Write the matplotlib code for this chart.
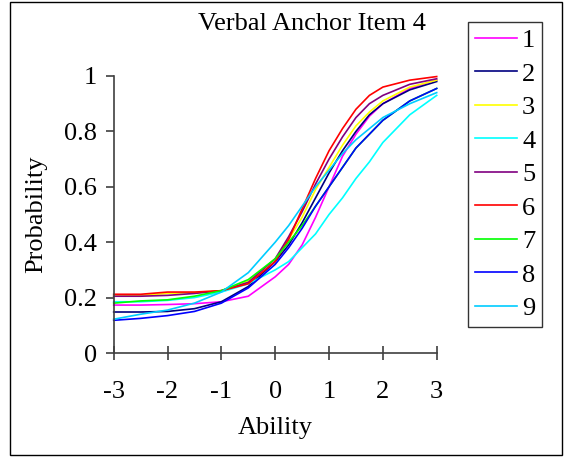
import matplotlib.pyplot as plt
import numpy as np
from matplotlib.patches import Rectangle

plt.rcParams['font.family'] = ['Liberation Serif', 'DejaVu Serif']

ability = [-3, -2.5, -2, -1.5, -1, -0.5, 0, 0.25, 0.5, 0.75, 1, 1.25, 1.5, 1.75, 2, 2.5, 3]

p1 = [0.173, 0.173, 0.175, 0.178, 0.185, 0.205, 0.275, 0.32, 0.39, 0.49, 0.60, 0.71, 0.79, 0.855, 0.90, 0.955, 0.985]
p2 = [0.148, 0.148, 0.150, 0.160, 0.185, 0.240, 0.33, 0.39, 0.47, 0.56, 0.65, 0.73, 0.80, 0.86, 0.90, 0.95, 0.98]
p3 = [0.205, 0.208, 0.215, 0.218, 0.225, 0.260, 0.34, 0.41, 0.49, 0.59, 0.67, 0.75, 0.82, 0.87, 0.91, 0.96, 0.985]
p4 = [0.185, 0.185, 0.190, 0.200, 0.220, 0.250, 0.30, 0.33, 0.38, 0.43, 0.50, 0.56, 0.63, 0.69, 0.76, 0.86, 0.93]
p5 = [0.205, 0.205, 0.208, 0.215, 0.225, 0.255, 0.34, 0.42, 0.51, 0.61, 0.70, 0.78, 0.85, 0.90, 0.93, 0.97, 0.99]
p6 = [0.212, 0.212, 0.220, 0.220, 0.225, 0.250, 0.33, 0.41, 0.52, 0.63, 0.73, 0.81, 0.88, 0.93, 0.96, 0.985, 0.998]
p7 = [0.180, 0.188, 0.192, 0.205, 0.225, 0.265, 0.34, 0.40, 0.46, 0.53, 0.60, 0.67, 0.74, 0.79, 0.84, 0.91, 0.955]
p8 = [0.118, 0.125, 0.135, 0.150, 0.180, 0.235, 0.32, 0.38, 0.45, 0.53, 0.60, 0.67, 0.74, 0.79, 0.84, 0.91, 0.955]
p9 = [0.122, 0.140, 0.155, 0.180, 0.220, 0.290, 0.40, 0.46, 0.53, 0.60, 0.66, 0.72, 0.77, 0.81, 0.85, 0.90, 0.94]

series = [p1, p2, p3, p4, p5, p6, p7, p8, p9]
names = ['1', '2', '3', '4', '5', '6', '7', '8', '9']
colors = ['#ff00ff', '#000080', '#ffff00', '#00ffff', '#800080',
          '#ff0000', '#00ff00', '#0000ff', '#00ccff']

fs = 19

fig = plt.figure(figsize=(5.66, 4.57), dpi=100)
ax = fig.add_axes([113.7 / 566, 1 - 353 / 457, 323 / 566, 277 / 457])

for vals, name, col in zip(series, names, colors):
    ax.plot(ability, vals, color=col, lw=1.2, label=name, clip_on=False)

ax.set_xlim(-3, 3)
ax.set_ylim(0, 1)
ax.set_xticks([-3, -2, -1, 0, 1, 2, 3])
ax.set_xticklabels(['-3', '-2', '-1', '0', '1', '2', '3'])
ax.set_yticks([0, 0.2, 0.4, 0.6, 0.8, 1])
ax.set_yticklabels(['0', '0.2', '0.4', '0.6', '0.8', '1'])
ax.spines['top'].set_visible(False)
ax.spines['right'].set_visible(False)
for s in ['left', 'bottom']:
    ax.spines[s].set_color('#404040')
    ax.spines[s].set_linewidth(1.2)
ax.tick_params(axis='x', direction='inout', length=10, width=1.2, pad=15.5, labelsize=fs, color='#404040')
ax.tick_params(axis='y', direction='out', length=6, width=1.2, pad=6, labelsize=fs, color='#404040')
ax.set_xlabel('Ability', fontsize=fs, labelpad=10)
ax.set_ylabel('Probability', fontsize=fs, labelpad=12)

fig.text(312 / 566, 1 - 24 / 457, 'Verbal Anchor Item 4', fontsize=fs, ha='center', va='center')

leg = ax.legend(loc='upper left', bbox_to_anchor=(468 / 566, 1 - 22 / 457),
                bbox_transform=fig.transFigure, fontsize=fs, frameon=True,
                fancybox=False, handlelength=1.6, handletextpad=0.2,
                labelspacing=0.38, borderpad=0.25, borderaxespad=0)
leg.get_frame().set_edgecolor('black')
leg.get_frame().set_linewidth(1.0)

fig.patches.append(Rectangle((10 / 566, 2 / 457), 552 / 566, 453 / 457,
                             transform=fig.transFigure, fill=False,
                             edgecolor='black', lw=1.0))

fig.savefig('out.png', dpi=100)
